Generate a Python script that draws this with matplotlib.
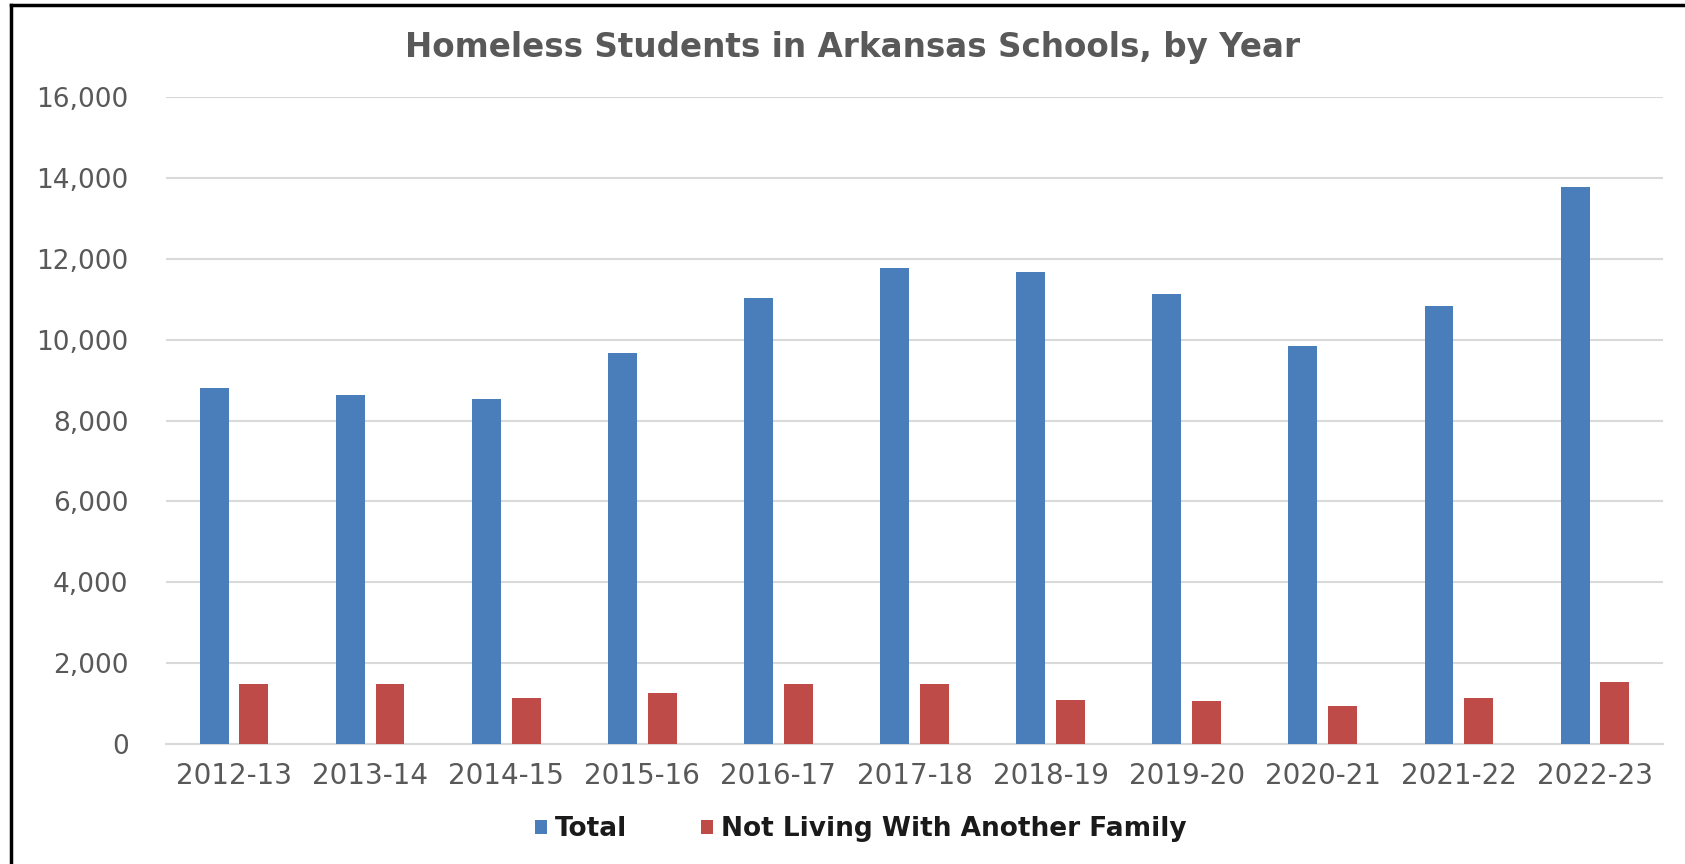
import matplotlib

matplotlib.use("Agg")

import matplotlib.pyplot as plt
import numpy as np
from matplotlib.lines import Line2D
from matplotlib.patches import Patch

# Values
years = ["2012-13", "2013-14", "2014-15", "2015-16", "2016-17", "2017-18",
         "2018-19", "2019-20", "2020-21", "2021-22", "2022-23"]
total = [8810, 8630, 8520, 9660, 11020, 11770, 11660, 11130, 9850, 10840, 13780]
not_with_family = [1485, 1485, 1142, 1265, 1485, 1485, 1094, 1061, 931, 1143, 1543]
y_ticks = [0, 2000, 4000, 6000, 8000, 10000, 12000, 14000, 16000]

BLUE = "#4A7EBB"
RED = "#BE4B48"
GRID = "#D9D9D9"
TEXT = "#595959"

plt.rcParams["font.family"] = ["DejaVu Sans"]

fig = plt.figure(figsize=(16.85, 8.64), dpi=100, facecolor="white")
ax = fig.add_axes([166 / 1685, 1 - 744 / 864, (1663 - 166) / 1685, (744 - 97) / 864])

x = np.arange(len(years))
width = 0.213
offset = 0.146
ax.bar(x - offset, total, width, color=BLUE, zorder=3)
ax.bar(x + offset, not_with_family, width, color=RED, zorder=3)

ax.set_xlim(-0.5, len(years) - 0.5)
ax.set_ylim(0, 16000)
ax.set_yticks(y_ticks)
ax.set_yticklabels([f"{v:,}" for v in y_ticks])
ax.set_xticks(x)
ax.set_xticklabels(years)

ax.grid(axis="y", color=GRID, linewidth=1.5, zorder=0)
for side in ["top", "right", "left"]:
    ax.spines[side].set_visible(False)
ax.spines["bottom"].set_color(GRID)
ax.spines["bottom"].set_linewidth(1.5)
ax.tick_params(axis="both", length=0, labelsize=19, colors=TEXT)
ax.tick_params(axis="x", labelsize=20, pad=13)
ax.tick_params(axis="y", pad=27)

fig.text(0.506, 1 - 48 / 864, "Homeless Students in Arkansas Schools, by Year",
         ha="center", va="center", fontsize=23.5, fontweight="bold", color=TEXT)

handles = [Patch(facecolor=BLUE, label="Total"),
           Patch(facecolor=RED, label="Not Living With Another Family")]
fig.legend(handles=handles, loc="center", bbox_to_anchor=(0.511, 1 - 829 / 864),
           ncol=2, frameon=False, handlelength=0.45, handleheight=0.45,
           handletextpad=0.3, columnspacing=2.8,
           prop={"size": 19, "weight": "bold"}, labelcolor="#1a1a1a")

# Border visible on the left and top edges of the reference crop
fig.add_artist(Line2D([11 / 1685, 11 / 1685], [0, 1 - 5 / 864], color="black",
                      linewidth=2.5, transform=fig.transFigure))
fig.add_artist(Line2D([11 / 1685, 1], [1 - 5 / 864, 1 - 5 / 864], color="black",
                      linewidth=2.5, transform=fig.transFigure))

fig.savefig("out.png", dpi=100, facecolor=fig.get_facecolor())
plt.close(fig)
